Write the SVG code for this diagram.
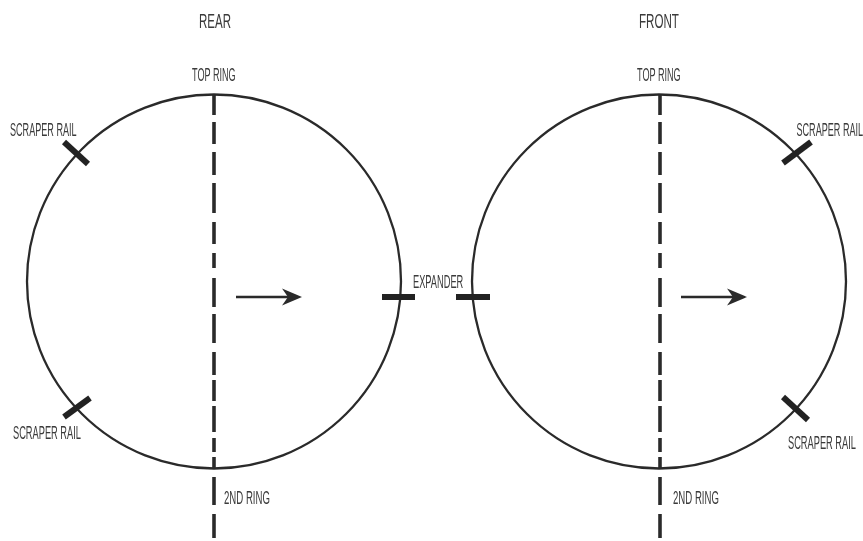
<svg xmlns="http://www.w3.org/2000/svg" width="863" height="541" viewBox="0 0 863 541">
<style>
.ring{fill:none;stroke:#2a2a2a;stroke-width:2.3}
.dash{stroke:#2a2a2a;stroke-width:3.6;fill:none}
.tick{stroke:#222;stroke-width:6;fill:none}
.shaft{stroke:#2a2a2a;stroke-width:2.4;fill:none}
.head{fill:#2a2a2a}
text{font-family:"Liberation Sans",Arial,sans-serif;fill:#3a3a3a;font-size:18px;text-anchor:start}
.t{font-size:21px}
</style>
<defs>
<filter id="soft" x="0" y="0" width="863" height="541" filterUnits="userSpaceOnUse"><feGaussianBlur stdDeviation="0.6"/></filter>
<path id="dashes" class="dash" d="M0 95V115M0 122V144M0 152V175M0 183V213M0 222V244M0 253V268M0 278V307M0 314V343M0 352V375M0 380V401M0 406V432M0 438V452M0 457V469M0 477V505M0 514V538"/>
</defs>
<rect width="863" height="541" fill="#ffffff"/>
<g filter="url(#soft)">
<g id="rear">
<circle class="ring" cx="214" cy="281.5" r="187"/>
<text class="t" transform="translate(199 28) scale(.549 1)">REAR</text>
</g>
<g id="front">
<circle class="ring" cx="659" cy="281.5" r="187"/>
<text class="t" transform="translate(639 28) scale(.553 1)">FRONT</text>
</g>
<g id="connectors">
<use href="#dashes" x="214"/>
<use href="#dashes" x="660"/>
<path class="shaft" d="M236 297H296"/>
<path class="head" d="M282 288.500L302 297L282 305.500L288 297Z"/>
<path class="shaft" d="M681 297H741"/>
<path class="head" d="M727 288.500L747 297L727 305.500L733 297Z"/>
</g>
<g id="rear-top-ring"><text transform="translate(192 81) scale(.506 1)">TOP RING</text></g>
<g id="rear-scraper-upper">
<path class="tick" d="M64 142L88 164"/>
<text transform="translate(10 136) scale(.505 1)">SCRAPER RAIL</text>
</g>
<g id="rear-scraper-lower">
<path class="tick" d="M64 417L90 398"/>
<text transform="translate(13 439) scale(.515 1)">SCRAPER RAIL</text>
</g>
<g id="rear-second-ring"><text transform="translate(224 504) scale(.535 1)">2ND RING</text></g>
<g id="expander">
<path class="tick" d="M382 297H415"/>
<path class="tick" d="M456 297H490"/>
<text transform="translate(413 288) scale(.515 1)">EXPANDER</text>
</g>
<g id="front-top-ring"><text transform="translate(637 81) scale(.506 1)">TOP RING</text></g>
<g id="front-scraper-upper">
<path class="tick" d="M783 163L811 142"/>
<text transform="translate(796.500 136) scale(.505 1)">SCRAPER RAIL</text>
</g>
<g id="front-scraper-lower">
<path class="tick" d="M783 397L808 420"/>
<text transform="translate(788 449) scale(.515 1)">SCRAPER RAIL</text>
</g>
<g id="front-second-ring"><text transform="translate(673 504) scale(.535 1)">2ND RING</text></g>
</g>
</svg>
